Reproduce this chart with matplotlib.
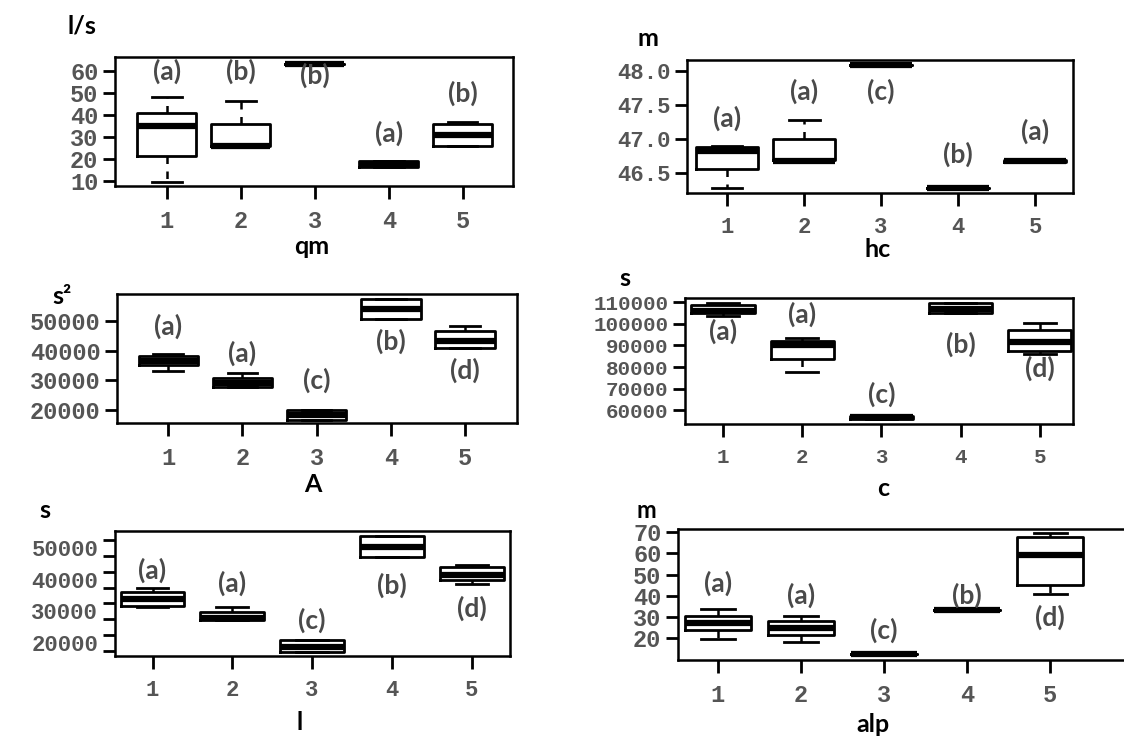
import matplotlib
matplotlib.use("Agg")
import matplotlib.pyplot as plt
from matplotlib.ticker import FixedLocator

W, H = 1124, 738

classes = [1, 2, 3, 4, 5]

# five-number summaries per class: [whislo, q1, median, q3, whishi]
qm_box = [[9.7, 21.5, 34.8, 40.7, 48.0],
          [25.9, 25.9, 26.0, 36.0, 46.2],
          [63.0, 63.0, 63.0, 63.0, 63.0],
          [16.3, 16.3, 17.5, 19.2, 19.2],
          [26.0, 26.0, 31.0, 36.0, 37.0]]
qm_letters = ['(a)', '(b)', '(b)', '(a)', '(b)']
qm_letter_y = [59.7, 59.7, 58.0, 31.7, 50.0]

hc_box = [[46.29, 46.56, 46.83, 46.88, 46.90],
          [46.67, 46.69, 46.68, 47.00, 47.28],
          [48.08, 48.08, 48.08, 48.08, 48.08],
          [46.29, 46.29, 46.29, 46.29, 46.29],
          [46.66, 46.66, 46.68, 46.70, 46.70]]
hc_letters = ['(a)', '(a)', '(c)', '(b)', '(a)']
hc_letter_y = [47.30, 47.70, 47.70, 46.77, 47.12]

A_box = [[33000, 35000, 36500, 38000, 38800],
         [27800, 27800, 29000, 30900, 32600],
         [16700, 16700, 18500, 20200, 20200],
         [50550, 50550, 53900, 57150, 57150],
         [41000, 41000, 43200, 46600, 48300]]
A_letters = ['(a)', '(a)', '(c)', '(b)', '(d)']
A_letter_y = [48000, 38900, 30000, 43200, 33400]

c_box = [[103400, 104900, 106000, 108500, 109500],
         [77800, 83700, 90300, 91800, 93400],
         [56000, 56000, 56800, 57500, 57500],
         [104900, 104900, 106900, 109500, 109500],
         [86000, 87200, 91400, 97200, 100300]]
c_letters = ['(a)', '(a)', '(c)', '(b)', '(d)']
c_letter_y = [96500, 104200, 67200, 90300, 79500]

l_box = [[31300, 31500, 33800, 36200, 37200],
         [27200, 27200, 27900, 29800, 31300],
         [17100, 17100, 18700, 20800, 20800],
         [47200, 47200, 50300, 53700, 53700],
         [38500, 39900, 41500, 43900, 44700]]
l_letters = ['(a)', '(a)', '(c)', '(b)', '(d)']
l_letter_y = [42800, 38800, 27200, 38300, 30900]

alp_box = [[19.6, 23.8, 27.3, 30.4, 33.6],
           [18.4, 21.5, 24.8, 28.0, 30.3],
           [12.7, 12.7, 12.7, 12.7, 12.7],
           [33.3, 33.3, 33.3, 33.3, 33.3],
           [40.8, 45.0, 59.0, 67.6, 69.5]]
alp_letters = ['(a)', '(a)', '(c)', '(b)', '(d)']
alp_letter_y = [46.0, 40.3, 23.6, 40.0, 30.0]

TICK_FONT = 'Liberation Mono'
TEXT_FONT = 'Lato'
GRAY = '#4a4a4a'
TICK_GRAY = '#555555'


def panel(px, box, letters, letter_y, xlim, ylim, yticks, yticklabels,
          unit, unit_xy, xlabel, xlabel_xy, fs=16, minor=None, unit_fs=18):
    x0, y0, x1, y1 = px
    ax = fig.add_axes([x0 / W, 1 - y1 / H, (x1 - x0) / W, (y1 - y0) / H])
    stats = []
    for cls, b in zip(classes, box):
        stats.append(dict(label=str(cls), whislo=b[0], q1=b[1], med=b[2],
                          q3=b[3], whishi=b[4], fliers=[]))
    ax.bxp(stats, positions=classes, widths=0.8, capwidths=0.4,
           showfliers=False, patch_artist=False,
           boxprops=dict(color='black', linewidth=2),
           medianprops=dict(color='black', linewidth=4.5, solid_capstyle='butt'),
           whiskerprops=dict(color='black', linewidth=1.8, linestyle=(0, (3, 3))),
           capprops=dict(color='black', linewidth=2))
    for cls, lab, ly in zip(classes, letters, letter_y):
        ax.text(cls, ly, lab, ha='center', va='center', fontsize=19,
                fontfamily=TEXT_FONT, fontweight='bold', color=GRAY)
    ax.set_xlim(*xlim)
    ax.set_ylim(*ylim)
    ax.set_xticks(classes)
    ax.set_xticklabels([str(c) for c in classes], fontfamily=TICK_FONT,
                       fontsize=fs, color=TICK_GRAY, fontweight='bold')
    ax.set_yticks(yticks)
    ax.set_yticklabels(yticklabels, fontfamily=TICK_FONT, fontsize=fs,
                       color=TICK_GRAY, fontweight='bold')
    ax.tick_params(axis='x', length=9, width=2, pad=8, direction='out')
    if minor is None:
        ax.tick_params(axis='y', length=9, width=2, pad=3, direction='out')
    else:
        ax.tick_params(axis='y', which='major', length=0, pad=12)
        ax.yaxis.set_minor_locator(FixedLocator(minor))
        ax.tick_params(axis='y', which='minor', length=9, width=2, direction='out')
    for s in ax.spines.values():
        s.set_linewidth(1.8)
    fig.text(unit_xy[0] / W, 1 - unit_xy[1] / H, unit, ha='center', va='center',
             fontsize=unit_fs, fontfamily=TEXT_FONT, fontweight='bold',
             color='black')
    fig.text(xlabel_xy[0] / W, 1 - xlabel_xy[1] / H, xlabel, ha='center',
             va='center', fontsize=18, fontfamily=TEXT_FONT, fontweight='bold',
             color='black')
    return ax


fig = plt.figure(figsize=(W / 100, H / 100), dpi=100)
fig.patch.set_facecolor('white')

panel((115, 57, 513, 186), qm_box, qm_letters, qm_letter_y,
      (0.30, 5.68), (7.7, 66.4), [10, 20, 30, 40, 50, 60],
      ['10', '20', '30', '40', '50', '60'],
      'l/s', (82, 26), 'qm', (312, 247), fs=17)

panel((687, 60, 1073, 193), hc_box, hc_letters, hc_letter_y,
      (0.48, 5.49), (46.21, 48.16), [46.5, 47.0, 47.5, 48.0],
      ['46.5', '47.0', '47.5', '48.0'],
      'm', (648, 38), 'hc', (878, 250), fs=16)

panel((117, 294, 517, 423), A_box, A_letters, A_letter_y,
      (0.31, 5.70), (15750, 58900), [20000, 30000, 40000, 50000],
      ['20000', '30000', '40000', '50000'],
      's²', (62, 296), 'A', (313, 485), fs=17)

panel((685, 298, 1073, 424), c_box, c_letters, c_letter_y,
      (0.52, 5.42), (53700, 111850),
      [60000, 70000, 80000, 90000, 100000, 110000],
      ['60000', '70000', '80000', '90000', '100000', '110000'],
      's', (625, 279), 'c', (883, 488), fs=15)

panel((115, 531, 510, 656), l_box, l_letters, l_letter_y,
      (0.53, 5.48), (15800, 55400), [20000, 30000, 40000, 50000],
      ['20000', '30000', '40000', '50000'],
      's', (45, 511), 'l', (300, 722), fs=16,
      minor=[17500, 22500, 27500, 32500, 37500, 42500, 47500, 52500])

panel((678, 529, 1140, 660), alp_box, alp_letters, alp_letter_y,
      (0.52, 6.08), (9.8, 71.4), [20, 30, 40, 50, 60, 70],
      ['20', '30', '40', '50', '60', '70'],
      'm', (646, 510), 'alp', (873, 724), fs=17, unit_fs=17)

fig.savefig('out.png', dpi=100)
